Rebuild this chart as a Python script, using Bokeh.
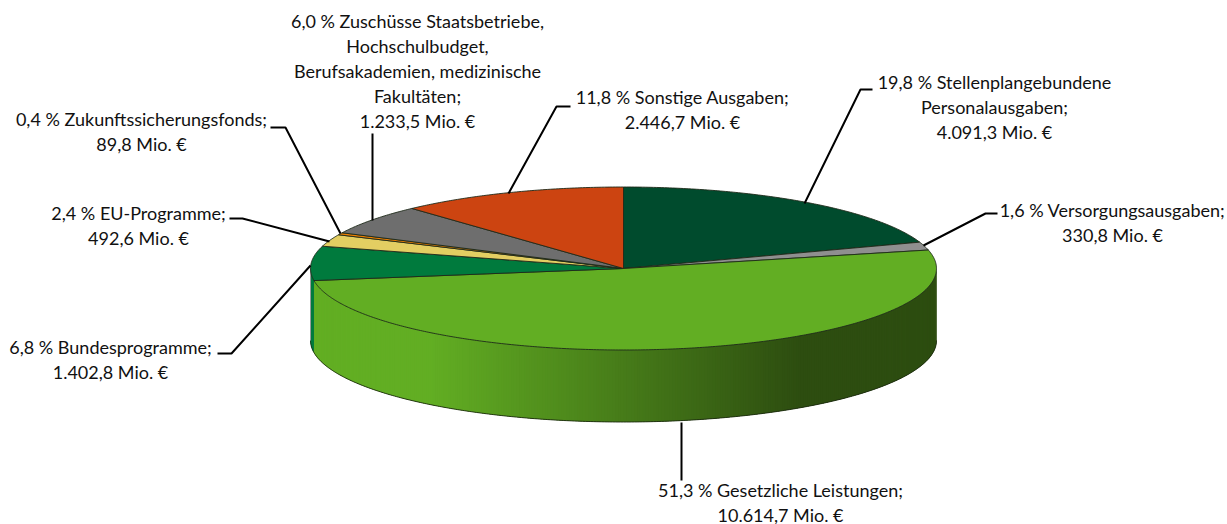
import math
from bokeh.plotting import figure
from bokeh.models import Range1d
from bokeh.core.properties import value
from bokeh.embed import file_html
from bokeh.resources import INLINE

names = ["Stellenplangebundene Personalausgaben", "Versorgungsausgaben", "Gesetzliche Leistungen",
         "Bundesprogramme", "EU-Programme", "Zukunftssicherungsfonds",
         "Zuschüsse Staatsbetriebe, Hochschulbudget, Berufsakademien, medizinische Fakultäten",
         "Sonstige Ausgaben"]
amounts = [4091.3, 330.8, 10614.7, 1402.8, 492.6, 89.8, 1233.5, 2446.7]
colors = ["#004B2D", "#8F8F8F", "#62AE23", "#007A3D", "#E3CE62", "#EE7F00", "#6E6E6E", "#CC4411"]
wall_light = (0x62, 0xAE, 0x23)
wall_dark = (0x2D, 0x4D, 0x10)

label_lines = [
    ["19,8 % Stellenplangebundene", "Personalausgaben;", "4.091,3 Mio. €"],
    ["1,6 % Versorgungsausgaben;", "330,8 Mio. €"],
    ["51,3 % Gesetzliche Leistungen;", "10.614,7 Mio. €"],
    ["6,8 % Bundesprogramme;", "1.402,8 Mio. €"],
    ["2,4 % EU-Programme;", "492,6 Mio. €"],
    ["0,4 % Zukunftssicherungsfonds;", "89,8 Mio. €"],
    ["6,0 % Zuschüsse Staatsbetriebe,", "Hochschulbudget,", "Berufsakademien, medizinische", "Fakultäten;", "1.233,5 Mio. €"],
    ["11,8 % Sonstige Ausgaben;", "2.446,7 Mio. €"],
]
label_centers = [(994, 81.5), (1112, 209), (780, 489), (110, 346), (138, 212.5), (141, 118.5), (417, 20), (682, 96.5)]
leaders = [
    ([804, 860, 872], [203, 89, 89]),
    ([923, 985, 997], [245, 213, 213]),
    ([681, 681], [422, 480]),
    ([310, 231, 217], [265, 353, 353]),
    ([329, 242, 229], [241, 218, 218]),
    ([340, 285, 270], [233, 127, 127]),
    ([372, 372], [220, 133]),
    ([508, 556, 570], [193, 106, 106]),
]

CX, CY, RX, RY, DEPTH = 623.0, 268.0, 313.0, 81.5, 72.0
LINE_H = 25.0
FONT = "Lato"
FONT_SIZE = "18px"


def pt(deg, dy=0.0):
    a = math.radians(deg)
    return CX + RX * math.sin(a), CY - RY * math.cos(a) + dy


def mix(t):
    t = max(0.0, min(1.0, t))
    r, g, b = (round(wall_light[i] + (wall_dark[i] - wall_light[i]) * t) for i in range(3))
    return f"#{r:02x}{g:02x}{b:02x}"


total = sum(amounts)
edges = [0.0]
for v in amounts:
    edges.append(edges[-1] + v / total * 360)

p = figure(width=1227, height=524, x_range=Range1d(0, 1227), y_range=Range1d(524, 0),
           toolbar_location=None, output_backend="svg", min_border=0, outline_line_color=None,
           x_axis_location=None, y_axis_location=None)
p.grid.visible = False
p.background_fill_color = "white"
p.border_fill_color = "white"

# rim of the disc: only the front half (90..270 degrees) can be seen
wx, wy, wc = [], [], []
d = 90.0
while d < 270.0 - 1e-9:
    e = min(d + 0.5, 270.0)
    far = min(e + 1.0, 270.0)
    x0, y0 = pt(d)
    x1, y1 = pt(far)
    xm = 0.5 * (pt(d)[0] + pt(e)[0])
    wx.append([x0, x1, x1, x0])
    wy.append([y0 - 0.3, y1 - 0.3, y1 + DEPTH, y0 + DEPTH])
    if d >= edges[3] - 1e-9:
        wc.append(colors[3])
    else:
        wc.append(mix((xm - 430) / (800 - 430)))
    d = e
p.patches(wx, wy, fill_color=wc, line_color=None)

rim = [pt(90 + i * 0.5, DEPTH) for i in range(361)]
p.line([q[0] for q in rim], [q[1] for q in rim], line_color="#1c2a10", line_width=0.9)
xl0, yl0 = pt(270)
p.line([xl0, xl0], [yl0, yl0 + DEPTH], line_color="#9a9a9a", line_width=1)

# top faces of the slices
xs, ys = [], []
for i in range(len(amounts)):
    n = max(2, int((edges[i + 1] - edges[i]) / 0.5))
    arc = [pt(edges[i] + (edges[i + 1] - edges[i]) * k / n) for k in range(n + 1)]
    xs.append([CX] + [q[0] for q in arc])
    ys.append([CY] + [q[1] for q in arc])
p.patches(xs, ys, fill_color=colors, line_color="#1e2a1a", line_width=0.9)

for lx, ly in leaders:
    p.line(lx, ly, line_color="black", line_width=2)

tx, ty, tt = [], [], []
for (cx, cy), lines in zip(label_centers, label_lines):
    for k, s in enumerate(lines):
        tx.append(cx)
        ty.append(cy + k * LINE_H)
        tt.append(s)
p.text(tx, ty, text=tt, text_font=value(FONT), text_font_size=value(FONT_SIZE), text_color="#111111",
       text_align="center", text_baseline="middle")

open("out.html", "w").write(file_html(p, INLINE))
